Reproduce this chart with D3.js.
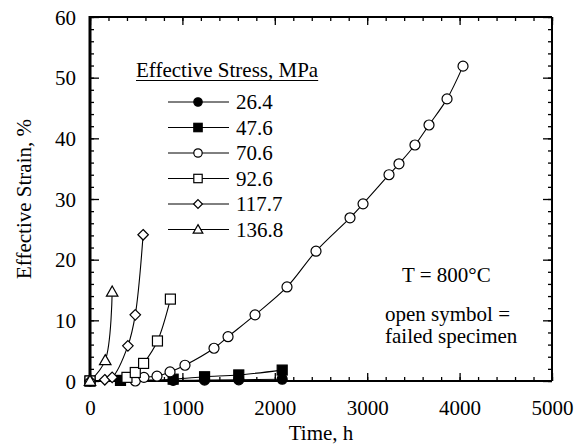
<!DOCTYPE html>
<html><head><meta charset="utf-8">
<script src="https://cdn.jsdelivr.net/npm/d3@7"></script>
<style>
html,body{margin:0;padding:0;background:#fff;}
svg text{font-family:'Liberation Serif','DejaVu Serif',serif !important;fill:#000;}
</style></head>
<body><svg id="c" width="587" height="445" style="font-family:'Liberation Serif','DejaVu Serif',serif"></svg>
<script>
// ---- data ----
const xTicks = [0, 1000, 2000, 3000, 4000, 5000];
const yTicks = [0, 10, 20, 30, 40, 50, 60];
const stressLabels = ["26.4", "47.6", "70.6", "92.6", "117.7", "136.8"];
const t264 = [0, 900, 1240, 1610, 2080];
const s264 = [0, 0.1, 0.15, 0.2, 0.3];
const t476 = [0, 330, 900, 1240, 1610, 2080];
const s476 = [0, 0.1, 0.3, 0.7, 1.0, 1.8];
const t706 = [490, 584, 725, 866, 1028, 1342, 1494, 1786, 2132, 2446, 2814, 2955, 3236, 3344, 3517, 3669, 3864, 4037];
const s706 = [0.0, 0.6, 0.8, 1.5, 2.6, 5.4, 7.3, 10.9, 15.5, 21.4, 26.9, 29.2, 34.0, 35.8, 38.9, 42.2, 46.5, 51.9];
const t926 = [0, 400, 490, 580, 730, 870];
const s926 = [0, 0.6, 1.4, 2.9, 6.6, 13.5];
const t1177 = [0, 160, 240, 410, 490, 575];
const s1177 = [0, 0.2, 0.6, 5.8, 10.9, 24.1];
const t1368 = [0, 165, 240];
const s1368 = [0, 3.4, 14.7];
const markers = ["filledCircle", "filledSquare", "circle", "square", "diamond", "triangle"];

const seriesT = [t264, t476, t706, t926, t1177, t1368];
const seriesS = [s264, s476, s706, s926, s1177, s1368];

// ---- layout ----
const L = 90, R = 552, T = 17, B = 381;
const FONT = "'Liberation Serif','DejaVu Serif',serif";
const svg = d3.select("#c");
const x = d3.scaleLinear().domain([0, 5000]).range([L, R]);
const y = d3.scaleLinear().domain([0, 60]).range([B, T]);
const FS = 21;

function axisStyle(g){ g.attr("font-family",FONT); g.select(".domain").remove(); g.selectAll("line").attr("stroke","#000").attr("stroke-width",1.3); }
const xMinor = d3.range(0, 5001, 200);
const yMinor = d3.range(0, 61, 2);

// bottom
svg.append("g").attr("transform",`translate(0,${B})`)
  .call(d3.axisBottom(x).tickValues(xMinor).tickSize(-4).tickFormat("")).call(axisStyle);
svg.append("g").attr("transform",`translate(0,${B})`)
  .call(d3.axisBottom(x).tickValues(xTicks).tickSize(-8).tickFormat(d3.format("d")))
  .call(axisStyle)
  .call(g=>g.selectAll("text").attr("font-size",FS).attr("dy",0).attr("y",34));
// top
svg.append("g").attr("transform",`translate(0,${T})`)
  .call(d3.axisTop(x).tickValues(xMinor).tickSize(-4).tickFormat("")).call(axisStyle);
svg.append("g").attr("transform",`translate(0,${T})`)
  .call(d3.axisTop(x).tickValues(xTicks).tickSize(-8).tickFormat("")).call(axisStyle);
// left
svg.append("g").attr("transform",`translate(${L},0)`)
  .call(d3.axisLeft(y).tickValues(yMinor).tickSize(-4).tickFormat("")).call(axisStyle);
svg.append("g").attr("transform",`translate(${L},0)`)
  .call(d3.axisLeft(y).tickValues(yTicks).tickSize(-9).tickFormat(d3.format("d")))
  .call(axisStyle)
  .call(g=>g.selectAll("text").attr("font-size",FS).attr("x",-14).attr("dy","0.34em"));
// right
svg.append("g").attr("transform",`translate(${R},0)`)
  .call(d3.axisRight(y).tickValues(yMinor).tickSize(-4).tickFormat("")).call(axisStyle);
svg.append("g").attr("transform",`translate(${R},0)`)
  .call(d3.axisRight(y).tickValues(yTicks).tickSize(-9).tickFormat("")).call(axisStyle);

// frame
svg.append("line").attr("x1",L).attr("x2",R).attr("y1",T).attr("y2",T).attr("stroke","#000").attr("stroke-width",2);
svg.append("line").attr("x1",L).attr("x2",R).attr("y1",B).attr("y2",B).attr("stroke","#000").attr("stroke-width",2);
svg.append("line").attr("x1",R).attr("x2",R).attr("y1",T).attr("y2",B).attr("stroke","#000").attr("stroke-width",2);
svg.append("line").attr("x1",L).attr("x2",L).attr("y1",T-1).attr("y2",B+1).attr("stroke","#000").attr("stroke-width",3);

// axis titles
svg.append("text").attr("x",(L+R)/2).attr("y",440).attr("text-anchor","middle").attr("font-size",FS).attr("font-family",FONT).text("Time, h");
svg.append("text").attr("transform",`translate(31,${(T+B)/2}) rotate(-90)`).attr("text-anchor","middle").attr("font-size",FS).attr("font-family",FONT).text("Effective Strain, %");

// marker drawing
function drawMarker(g, type, cx, cy, s){
  const sw = 1.2;
  if(type==="filledCircle") g.append("circle").attr("cx",cx).attr("cy",cy).attr("r",s).attr("fill","#000").attr("stroke","#000").attr("stroke-width",sw);
  else if(type==="circle") g.append("circle").attr("cx",cx).attr("cy",cy).attr("r",s).attr("fill","#fff").attr("stroke","#000").attr("stroke-width",sw);
  else if(type==="filledSquare") g.append("rect").attr("x",cx-s).attr("y",cy-s).attr("width",2*s).attr("height",2*s).attr("fill","#000").attr("stroke","#000").attr("stroke-width",sw);
  else if(type==="square") g.append("rect").attr("x",cx-s).attr("y",cy-s).attr("width",2*s).attr("height",2*s).attr("fill","#fff").attr("stroke","#000").attr("stroke-width",sw);
  else if(type==="diamond") { const d=s*1.05; g.append("path").attr("d",`M${cx},${cy-d}L${cx+d},${cy}L${cx},${cy+d}L${cx-d},${cy}Z`).attr("fill","#fff").attr("stroke","#000").attr("stroke-width",sw); }
  else if(type==="triangle") { const d=s*1.15; g.append("path").attr("d",`M${cx},${cy-d}L${cx+d},${cy+d*0.75}L${cx-d},${cy+d*0.75}Z`).attr("fill","#fff").attr("stroke","#000").attr("stroke-width",sw); }
}

const line = d3.line().x(d=>x(d[0])).y(d=>y(d[1])).curve(d3.curveCatmullRom.alpha(0.5));
const plot = svg.append("g");
seriesT.forEach((ts,i)=>{
  const pts = ts.map((t,j)=>[t, seriesS[i][j]]);
  plot.append("path").attr("d",line(pts)).attr("fill","none").attr("stroke","#000").attr("stroke-width",1.1);
});
seriesT.forEach((ts,i)=>{
  const g = plot.append("g");
  ts.forEach((t,j)=>drawMarker(g, markers[i], x(t), y(seriesS[i][j]), 5));
});

// legend
const lg = svg.append("g").attr("font-family",FONT);
const title = lg.append("text").attr("x",136).attr("y",77).attr("font-size",FS).text("Effective Stress, MPa");
const tw = title.node().getComputedTextLength();
lg.append("line").attr("x1",136).attr("x2",136+tw).attr("y1",80.5).attr("y2",80.5).attr("stroke","#000").attr("stroke-width",1.2);
stressLabels.forEach((lab,i)=>{
  const cy = 102 + i*25.5;
  lg.append("line").attr("x1",168).attr("x2",229).attr("y1",cy).attr("y2",cy).attr("stroke","#000").attr("stroke-width",1);
  drawMarker(lg, markers[i], 198, cy, 4.2);
  lg.append("text").attr("x",236).attr("y",cy+7).attr("font-size",FS).text(lab);
});

// annotations
const an = svg.append("g").attr("font-family",FONT).attr("font-size",FS);
an.append("text").attr("x",402).attr("y",282).text("T = 800°C");
an.append("text").attr("x",385).attr("y",321).text("open symbol =");
an.append("text").attr("x",385).attr("y",343).text("failed specimen");
</script></body></html>
